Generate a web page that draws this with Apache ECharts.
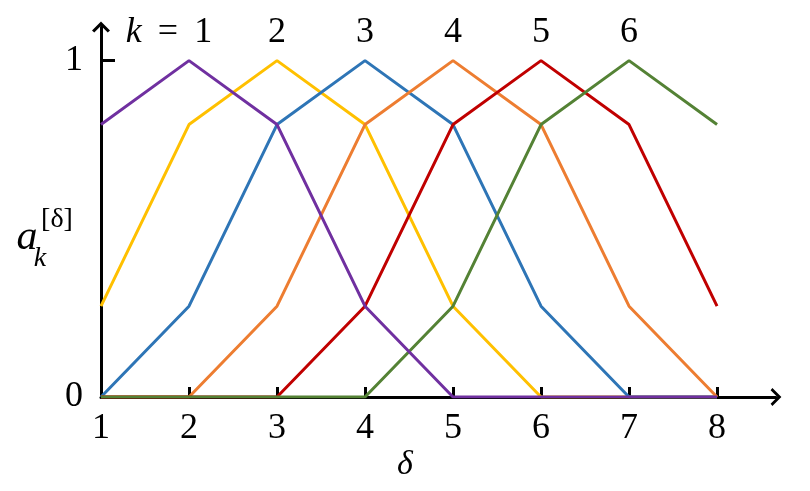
<!DOCTYPE html>
<html>
<head>
<meta charset="utf-8">
<script src="https://cdn.jsdelivr.net/npm/echarts@6/dist/echarts.min.js"></script>
<style>
  html, body { margin: 0; padding: 0; background: #fff; }
  #chart { width: 810px; height: 491px; }
</style>
</head>
<body>
<div id="chart"></div>
<script>
var deltas = [1, 2, 3, 4, 5, 6, 7, 8];
var k1 = [0.81, 1, 0.81, 0.27, 0, 0, 0, 0];
var k2 = [0.27, 0.81, 1, 0.81, 0.27, 0, 0, 0];
var k3 = [0, 0.27, 0.81, 1, 0.81, 0.27, 0, 0];
var k4 = [0, 0, 0.27, 0.81, 1, 0.81, 0.27, 0];
var k5 = [0, 0, 0, 0.27, 0.81, 1, 0.81, 0.27];
var k6 = [0, 0, 0, 0, 0.27, 0.81, 1, 0.81];
var kNames = ['1', '2', '3', '4', '5', '6'];
var xTickLabels = [1, 2, 3, 4, 5, 6, 7, 8];
var yTickLabels = [0, 1];

var serif = 'Liberation Serif';
var chartDom = document.getElementById('chart');
var myChart = echarts.init(chartDom);

// open chevron arrow head, pointing up (rotated along the axis)
var chevron = 'path://M10,0 L20,10 L17.5,12 L10,4.5 L2.5,12 L0,10 Z';

function makeSeries(values, idx, color) {
  var peak = values.indexOf(1);
  var data = deltas.map(function (d, i) {
    if (i === peak) {
      return {
        value: [d, values[i]],
        label: {
          show: true,
          position: 'top',
          distance: 10,
          offset: idx === 0 ? [-20, 0] : [0, 0],
          formatter: idx === 0 ? '{i|k} \u2009=\u2009 ' + kNames[idx] : kNames[idx],
          fontFamily: serif,
          fontSize: 36,
          color: '#000',
          rich: {
            i: { fontFamily: serif, fontStyle: 'italic', fontSize: 36, color: '#000' }
          }
        }
      };
    }
    return [d, values[i]];
  });
  return {
    type: 'line',
    data: data,
    symbol: 'circle',
    symbolSize: 0,
    showSymbol: true,
    z: 2,
    lineStyle: { color: color, width: 3 },
    itemStyle: { color: color },
    label: { show: false }
  };
}

// draw order: purple last so it sits on top along the bottom
var series = [
  makeSeries(k2, 1, '#FFC000'),
  makeSeries(k3, 2, '#2E75B6'),
  makeSeries(k4, 3, '#ED7D31'),
  makeSeries(k5, 4, '#C00000'),
  makeSeries(k6, 5, '#548235'),
  makeSeries(k1, 0, '#7030A0')
];

var option = {
  animation: false,
  backgroundColor: '#fff',
  grid: { left: 101, right: 34, top: 27, bottom: 94 },
  xAxis: {
    type: 'value',
    min: 1,
    max: 8.67,
    interval: 1,
    splitLine: { show: false },
    axisLine: {
      lineStyle: { color: '#000', width: 3 },
      symbol: ['none', chevron],
      symbolSize: [18, 12]
    },
    axisTick: {
      show: true,
      inside: true,
      length: 10,
      lineStyle: { color: '#000', width: 3 },
      customValues: [2, 3, 4, 5, 6, 7, 8]
    },
    axisLabel: {
      customValues: xTickLabels,
      fontFamily: serif,
      fontSize: 36,
      color: '#000',
      margin: 14
    }
  },
  yAxis: {
    type: 'value',
    min: 0,
    max: 1.1,
    interval: 1,
    splitLine: { show: false },
    axisLine: {
      show: true,
      lineStyle: { color: '#000', width: 3 },
      symbol: ['none', chevron],
      symbolSize: [18, 12]
    },
    axisTick: {
      show: true,
      inside: true,
      length: 14,
      lineStyle: { color: '#000', width: 3 },
      customValues: [1]
    },
    axisLabel: {
      customValues: yTickLabels,
      fontFamily: serif,
      fontSize: 36,
      color: '#000',
      margin: 18
    }
  },
  graphic: [
    { type: 'text', z: 10, style: { x: 27, y: 238, text: 'a', fontFamily: serif, fontStyle: 'italic', fontSize: 42, fill: '#000', align: 'center', verticalAlign: 'middle' } },
    { type: 'text', z: 10, style: { x: 40, y: 259, text: 'k', fontFamily: serif, fontStyle: 'italic', fontSize: 28, fill: '#000', align: 'center', verticalAlign: 'middle' } },
    { type: 'text', z: 10, style: { x: 57, y: 220, text: '[δ]', fontFamily: serif, fontSize: 28, fill: '#000', align: 'center', verticalAlign: 'middle' } },
    { type: 'text', z: 10, style: { x: 405, y: 465, text: 'δ', fontFamily: serif, fontStyle: 'italic', fontSize: 34, fill: '#000', align: 'center', verticalAlign: 'middle' } }
  ],
  series: series
};

option && myChart.setOption(option);
</script>
</body>
</html>
